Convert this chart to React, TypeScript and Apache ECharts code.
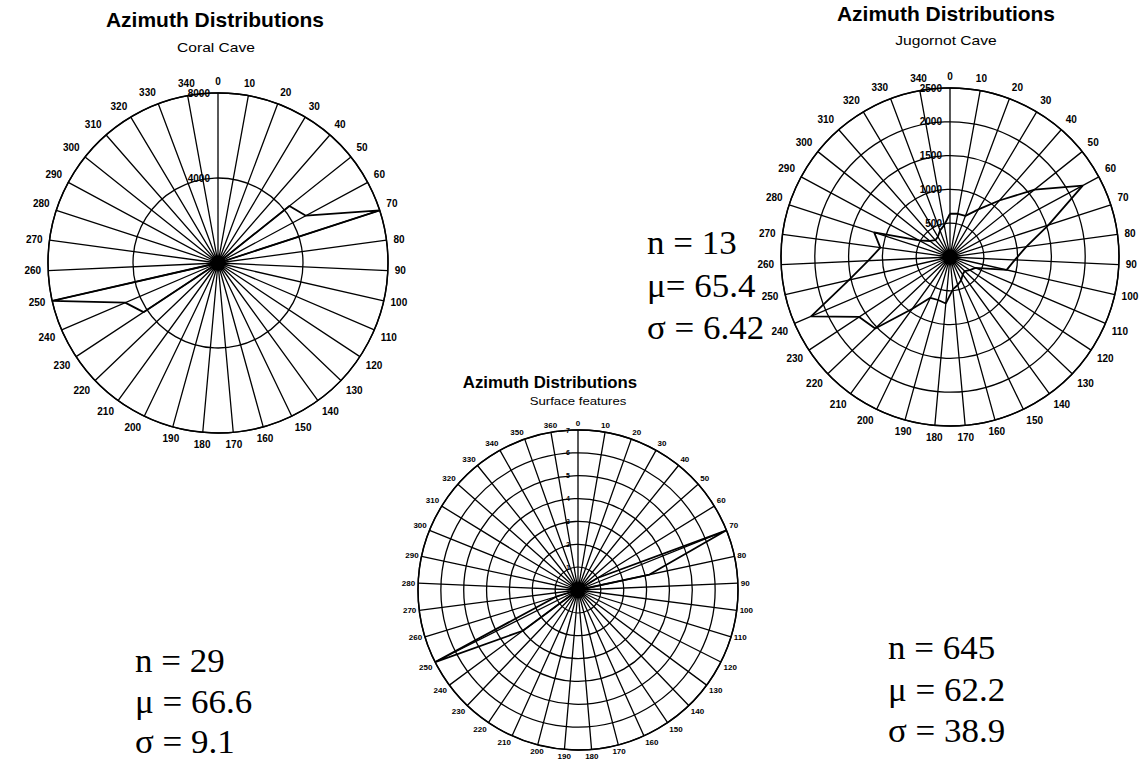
import React, { useEffect, useRef } from "react";
import * as echarts from "echarts";

// ---- Data ----
const coralCategories = ["0","10","20","30","40","50","60","70","80","90","100","110","120","130","140","150","160","170","180","190","200","210","220","230","240","250","260","270","280","290","300","310","320","330","340"];
const coralValues = [0,0,0,0,0,4300,4700,8000,0,0,0,0,0,0,0,0,0,0,0,0,0,0,0,4200,4750,8000,0,0,0,0,0,0,0,0,0];
const coralRadiusMax = 8000;
const coralRadiusStep = 4000;

const jugornotCategories = ["0","10","20","30","40","50","60","70","80","90","100","110","120","130","140","150","160","170","180","190","200","210","220","230","240","250","260","270","280","290","300","310","320","330","340"];
const jugornotValues = [640,650,650,820,1110,1600,2230,1530,1140,960,860,410,350,300,320,380,430,480,690,660,670,945,1530,1610,2235,1535,1210,1040,1180,520,380,330,350,420,480];
const jugornotRadiusMax = 2500;
const jugornotRadiusStep = 500;

const surfaceCategories = ["0","10","20","30","40","50","60","70","80","90","100","110","120","130","140","150","160","170","180","190","200","210","220","230","240","250","260","270","280","290","300","310","320","330","340","350","360"];
const surfaceValues = [0,0,0,0,0,0,1,7,3.2,0,0,0,0,0,0,0,0,0,0,0,0,0,0,0,3,7,1,0,0,0,0,0,0,0,0,0,0];
const surfaceRadiusMax = 7;
const surfaceRadiusStep = 1;

const chartTitle = "Azimuth Distributions";
const subtitles = ["Coral Cave", "Jugornot Cave", "Surface features"];
const statsCoral = ["n = 13", "\u03bc= 65.4", "\u03c3 = 6.42"];
const statsSurface = ["n = 29", "\u03bc = 66.6", "\u03c3 = 9.1"];
const statsJugornot = ["n = 645", "\u03bc = 62.2", "\u03c3 = 38.9"];

// polygon closed back onto the first spoke (angle = number of spokes = full turn)
const closed = (vals: number[]) => {
  const d = vals.map((v, i) => [v, i]);
  d.push([vals[0], vals.length]);
  return d;
};

const BLACK = "#000";
const SANS = "Liberation Sans, Arial, sans-serif";

function angleAxis(idx: number, cats: string[], fontSize: number, margin: number) {
  return {
    polarIndex: idx,
    type: "value",
    min: 0,
    max: cats.length,
    interval: 1,
    startAngle: 90,
    clockwise: true,
    axisLine: { show: true, lineStyle: { color: BLACK, width: 1.5 } },
    axisTick: { show: false },
    axisLabel: {
      margin,
      color: BLACK,
      fontSize,
      fontWeight: "bold",
      fontFamily: SANS,
      formatter: (v: number) => (cats[v] !== undefined ? cats[v] : ""),
    },
    splitLine: { show: true, lineStyle: { color: BLACK, width: 1.3 } },
  };
}

function radiusAxis(idx: number, max: number, step: number, fontSize: number) {
  return {
    polarIndex: idx,
    type: "value",
    min: 0,
    max,
    interval: step,
    axisLine: { show: false },
    axisTick: { show: false },
    axisLabel: {
      show: true,
      color: BLACK,
      fontSize,
      fontWeight: "bold",
      fontFamily: SANS,
      formatter: (v: number) => (v === 0 ? "" : String(v)),
    },
    splitLine: { show: true, lineStyle: { color: BLACK, width: 1.3 } },
  };
}

function lineSeries(idx: number, vals: number[]) {
  return {
    type: "line",
    coordinateSystem: "polar",
    polarIndex: idx,
    data: closed(vals),
    symbol: "none",
    silent: true,
    lineStyle: { color: BLACK, width: 1.8 },
  };
}

function titleText(x: number, y: number, text: string, size: number, bold: boolean, scaleX: number) {
  return {
    type: "text",
    x,
    y,
    scaleX,
    style: {
      text,
      fill: BLACK,
      fontSize: size,
      fontWeight: bold ? "bold" : "normal",
      fontFamily: SANS,
      align: "center",
      verticalAlign: "middle",
    },
  };
}

function statText(x: number, y: number, text: string) {
  return {
    type: "text",
    x,
    y,
    scaleX: 1.06,
    style: {
      text,
      fill: BLACK,
      fontSize: 33,
      fontFamily: "Liberation Serif, 'Times New Roman', serif",
      align: "left",
      verticalAlign: "middle",
    },
  };
}

export default function App() {
  const ref = useRef<HTMLDivElement>(null);
  useEffect(() => {
    document.body.style.margin = "0";
    if (!ref.current) return;
    const chart = echarts.init(ref.current, null, { renderer: "svg" });
    const option = {
      animation: false,
      backgroundColor: "#fff",
      polar: [
        { center: [218, 263], radius: 170 },
        { center: [950, 257], radius: 169 },
        { center: [578, 590], radius: 160 },
      ],
      angleAxis: [
        angleAxis(0, coralCategories, 10, 7),
        angleAxis(1, jugornotCategories, 10, 7),
        angleAxis(2, surfaceCategories, 8, 3),
      ],
      radiusAxis: [
        radiusAxis(0, coralRadiusMax, coralRadiusStep, 10),
        radiusAxis(1, jugornotRadiusMax, jugornotRadiusStep, 10),
        radiusAxis(2, surfaceRadiusMax, surfaceRadiusStep, 7),
      ],
      series: [
        lineSeries(0, coralValues),
        lineSeries(1, jugornotValues),
        lineSeries(2, surfaceValues),
      ],
      graphic: [
        titleText(215, 20, chartTitle, 20, true, 1.05),
        titleText(216, 47, subtitles[0], 13, false, 1.2),
        titleText(946, 14, chartTitle, 20, true, 1.05),
        titleText(946, 40, subtitles[1], 13, false, 1.2),
        titleText(550, 382, chartTitle, 16, true, 1.05),
        titleText(578, 401, subtitles[2], 11, false, 1.2),
        statText(647, 243, statsCoral[0]),
        statText(647, 286, statsCoral[1]),
        statText(647, 328, statsCoral[2]),
        statText(135, 661, statsSurface[0]),
        statText(135, 702, statsSurface[1]),
        statText(135, 742, statsSurface[2]),
        statText(888, 648, statsJugornot[0]),
        statText(888, 690, statsJugornot[1]),
        statText(888, 731, statsJugornot[2]),
      ],
    };
    chart.setOption(option as any);
    return () => chart.dispose();
  }, []);
  return <div ref={ref} style={{ width: 1144, height: 763 }} />;
}
